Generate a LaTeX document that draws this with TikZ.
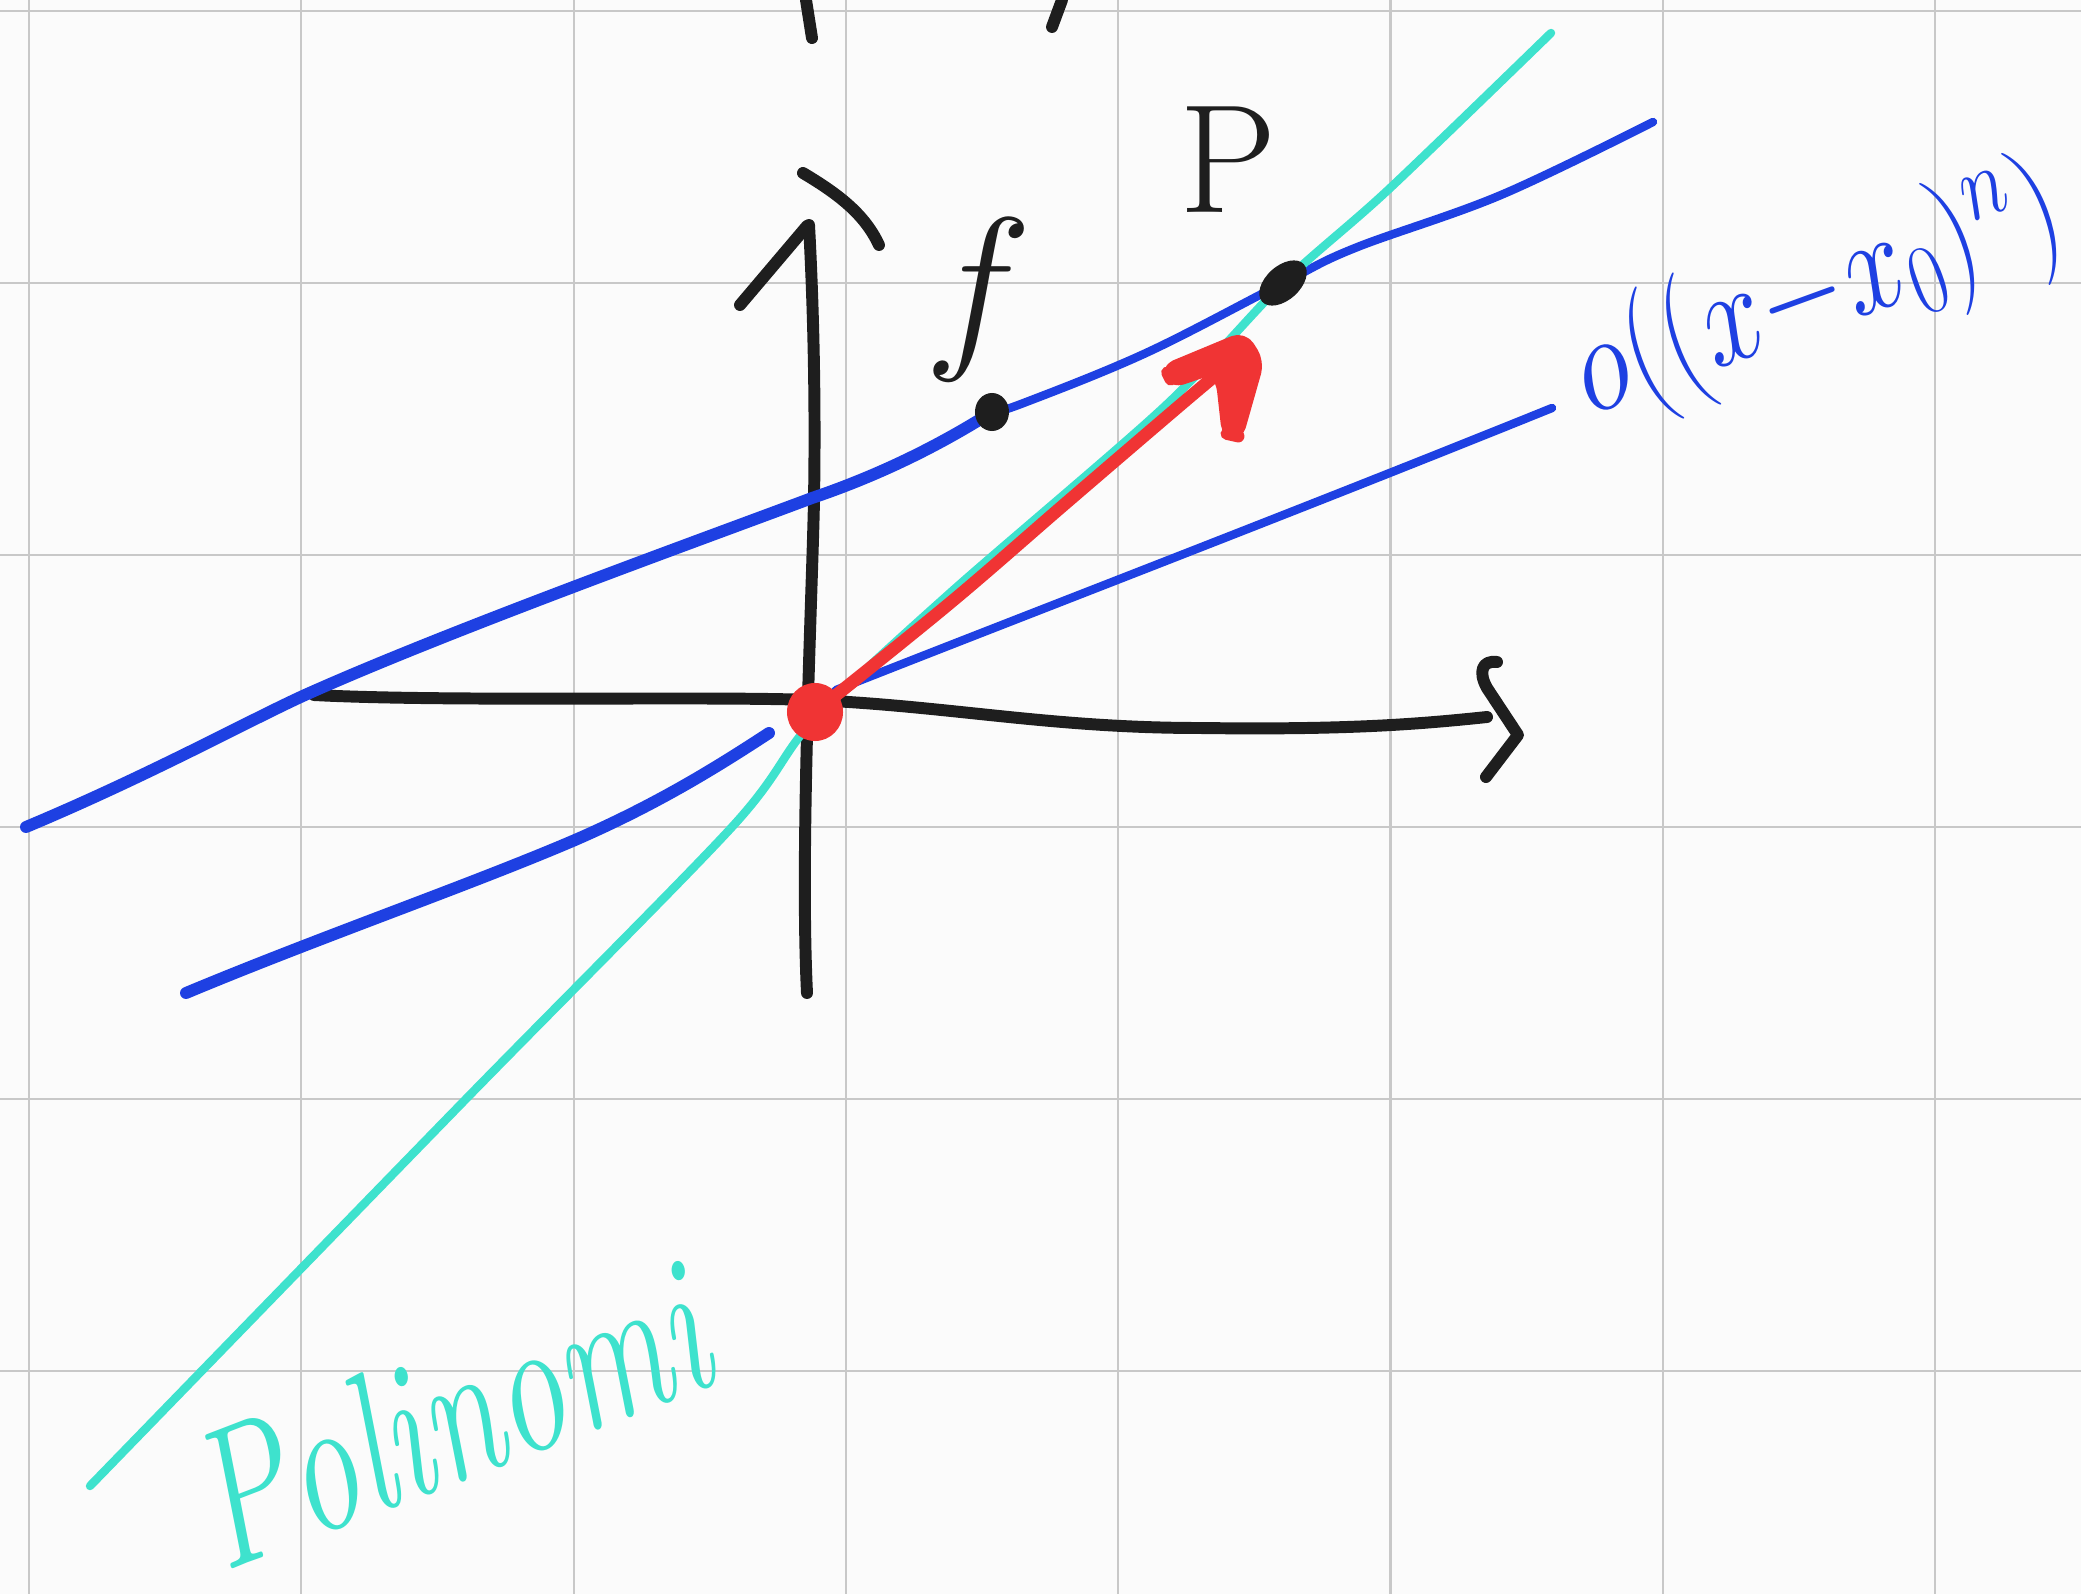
\RequirePackage{fix-cm}
\documentclass[tikz,border=0pt]{standalone}
\usepackage{graphicx}
\begin{document}
\begin{tikzpicture}[x=0.01cm,y=-0.01cm,line cap=round,line join=round]
\definecolor{bg}{RGB}{251,251,251}
\definecolor{gridc}{RGB}{200,200,200}
\definecolor{pen}{RGB}{30,30,30}
\definecolor{bluep}{RGB}{30,64,226}
\definecolor{tealp}{RGB}{62,226,205}
\definecolor{redp}{RGB}{240,52,52}
\tikzset{
 gridline/.style={gridc,line width=0.6pt},
 blackpen/.style={pen,line width=3.4pt},
 bluethick/.style={bluep,line width=3.4pt},
 bluethin/.style={bluep,line width=2.4pt},
 tealpen/.style={tealp,line width=2.4pt},
 redpen/.style={redp,line width=3.6pt},
}
\fill[bg] (0,0) rectangle (2081,1594);
\useasboundingbox (0,0) rectangle (2081,1594);
% grid
\foreach \k in {0,...,7} \draw[gridline] ({29+272.3*\k},0) -- ({29+272.3*\k},1594);
\foreach \k in {0,...,5} \draw[gridline] (0,{11+272*\k}) -- (2081,{11+272*\k});
% key points
\coordinate (O) at (815,712);
\coordinate (Fpt) at (992,412);
\coordinate (Ppt) at (1283,283);
% fragments at top
\draw[blackpen] (806,0) -- (812,38);
\draw[blackpen] (1062,0) -- (1052,27);
% y-axis
\draw[blackpen] (807,993) .. controls (800,850) and (812,600) .. (814,500) .. controls (816,380) and (812,280) .. (809,225);
\draw[blackpen] (740,305) -- (807,226);
\draw[blackpen] (803,173) .. controls (840,195) and (865,215) .. (879,245);
% x-axis
\draw[blackpen] (314,695) .. controls (450,702) and (700,696) .. (812,700) .. controls (950,706) and (1050,728) .. (1200,728) .. controls (1350,730) and (1420,724) .. (1487,717);
\draw[blackpen] (1497,662) .. controls (1482,660) and (1478,672) .. (1487,688) -- (1518,735) -- (1486,777);
% upper blue
\draw[bluethick] (26,827) .. controls (150,775) and (250,720) .. (305,695) .. controls (450,630) and (700,540) .. (812,498) .. controls (880,475) and (940,445) .. (Fpt);
\draw[bluethin] plot[smooth,tension=0.6] coordinates {(Fpt) (1021,404) (1146,353) (1283,283) (1355,248) (1501,195) (1653,122)};
% lower blue
\draw[bluethick] (186,993) .. controls (320,937) and (470,885) .. (575,840) .. controls (660,803) and (720,765) .. (769,733);
\draw[bluethin] (836,690) .. controls (1000,625) and (1300,510) .. (1552,408);
% teal
\draw[tealpen] plot[smooth,tension=0.5] coordinates {(90,1486) (464,1101) (732,827) (812,722) (950,593) (1164,407) (1283,283) (1388,190) (1551,33)};
% red
\fill[redp] (O) ellipse [x radius=0.28cm,y radius=0.29cm];
\draw[redpen] plot[smooth,tension=0.6] coordinates {(O) (950,603) (1066,503) (1178,407) (1222,370)};
\filldraw[redp,line width=3.5pt,rounded corners=3pt] (1166,370) -- (1243,338) -- (1258,362) -- (1237,436) -- (1228,434) -- (1222,380) -- (1213,368) -- (1172,382) -- cycle;
% dots
\fill[pen] (Fpt) ellipse [x radius=0.17cm,y radius=0.19cm];
\fill[pen,shift={(Ppt)},rotate=42] (0,0) ellipse [x radius=0.28cm,y radius=0.17cm];
% labels
\node[pen,font=\fontsize{52}{52}\selectfont] (flab) at (978,300) {$f$};
\node[pen,font=\fontsize{44}{44}\selectfont] (plab) at (1228,160) {P};
\node[bluep,rotate=20,font=\fontsize{40}{40}\selectfont] (olab) at (1818,295) {\scalebox{0.8}[1]{$o((x{-}x_0)^n)$}};
\node[tealp,rotate=21,font=\fontsize{56}{56}\selectfont\itshape] (pol) at (448,1414) {\scalebox{0.7}[1]{Polinomi}};
\end{tikzpicture}
\end{document}
